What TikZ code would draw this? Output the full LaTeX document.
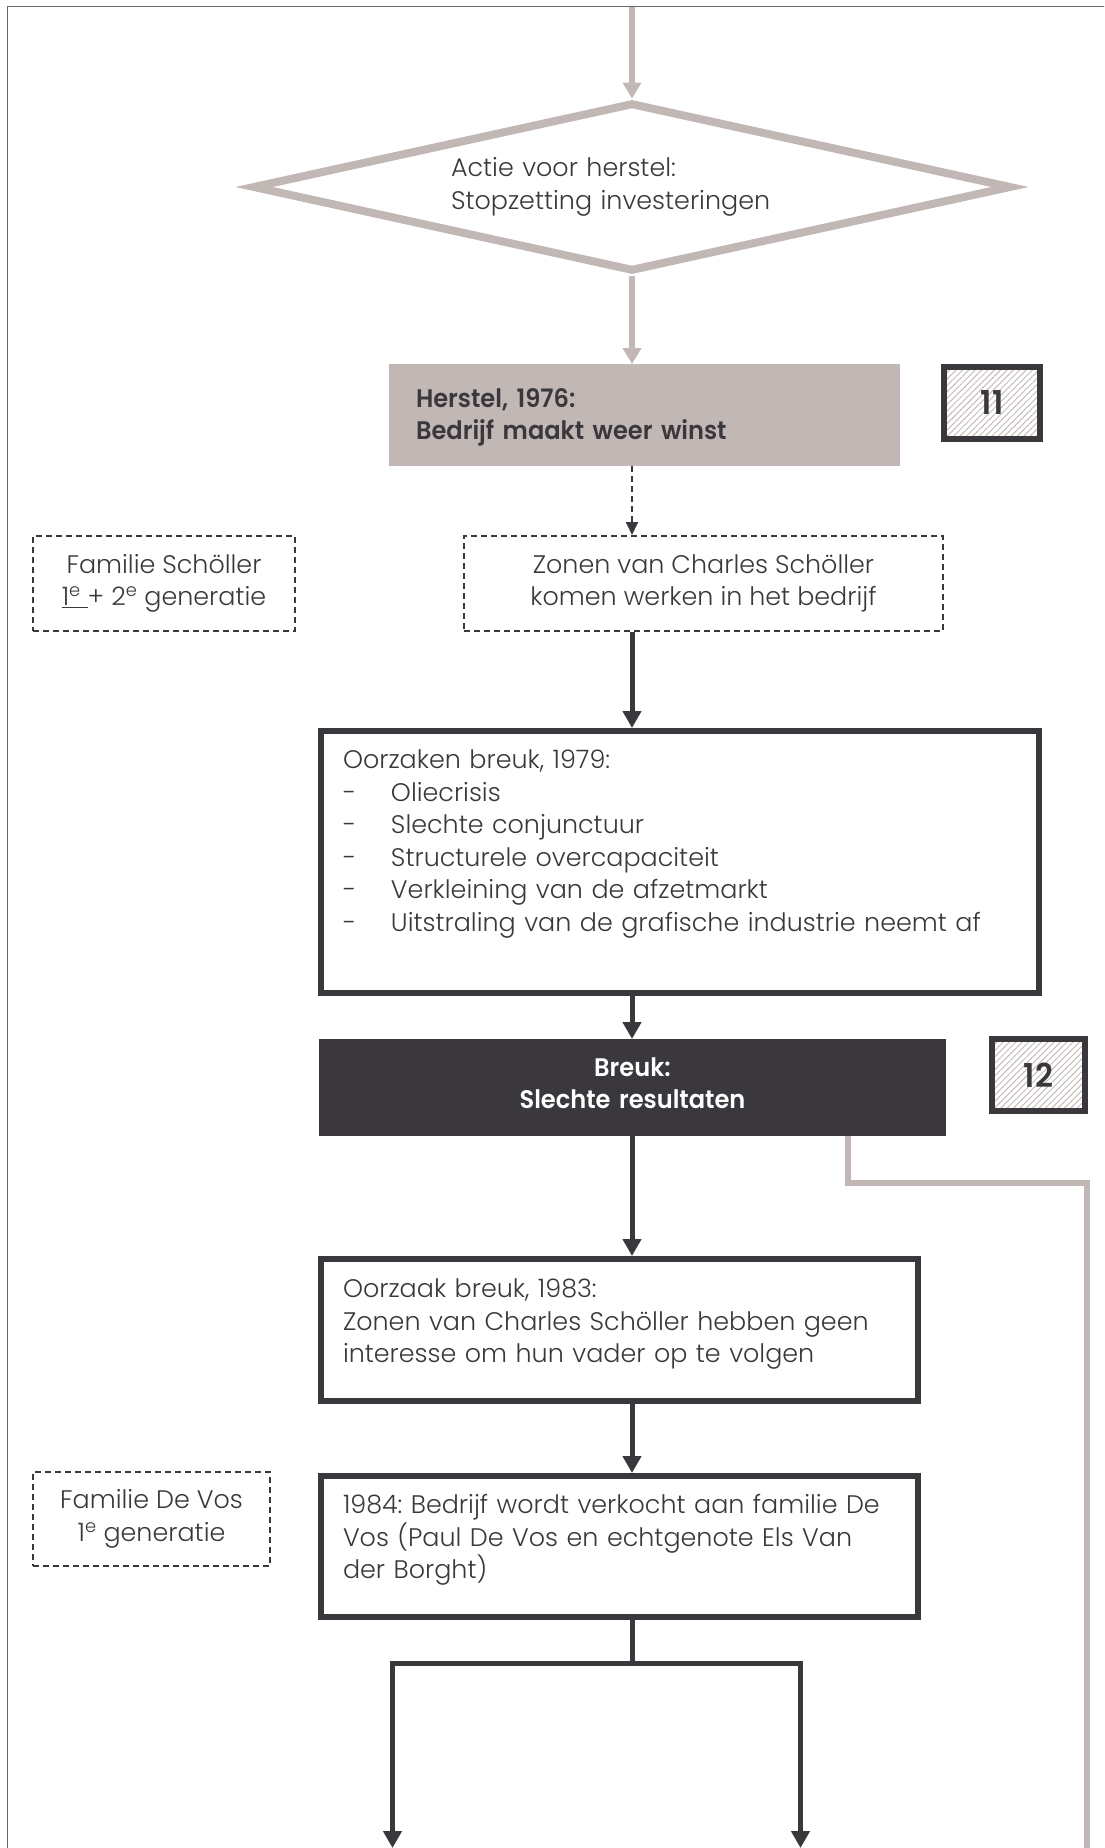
\documentclass[tikz,border=0pt]{standalone}
\usepackage{fontspec}
\setmainfont{Poppins}[UprightFont={* Light}, BoldFont={* SemiBold}, BoldFeatures={FakeStretch=0.95}]
\usetikzlibrary{arrows.meta,shapes.geometric,patterns.meta}
\definecolor{ink}{HTML}{3A383D}
\definecolor{taupe}{HTML}{C1B7B4}
\definecolor{framegray}{HTML}{666666}
\definecolor{hatch}{HTML}{C4BCB9}
\newcommand\txtsize{\fontsize{25.5}{32.6}\selectfont}
\frenchspacing

\begin{document}
\begin{tikzpicture}[x=1bp,y=-1bp,
  every node/.style={font=\txtsize, text=ink},
  darrow/.style={draw=ink, line width=5bp, -{Triangle[length=17bp,width=18bp]}},
  gline/.style={draw=taupe, line width=5.5bp},
  garrow/.style={gline, -{Triangle[length=16bp,width=18bp]}},
  dashedarrow/.style={draw=ink, line width=1.8bp, dash pattern=on 6bp off 4bp, -{Triangle[length=13bp,width=12bp]}},
  plainbox/.style={draw=ink, line width=5.5bp, fill=white, inner sep=0pt, align=left, anchor=north},
  famibox/.style={draw=ink, line width=2bp, dash pattern=on 6bp off 4bp, inner sep=0pt, align=center},
  numbox/.style={draw=ink, line width=5.5bp, pattern={Lines[angle=45,distance=4.5bp,line width=1bp]}, pattern color=hatch, minimum width=96bp, minimum height=72bp, inner sep=0pt, font=\fontsize{33}{36}\selectfont\bfseries},
]
\useasboundingbox (0,0) rectangle (1104,1848);
\clip (0,0) rectangle (1104,1848);

% page frame
\draw[framegray, line width=1.7bp] (7.5,6.5) rectangle (1130,1880);

% helper coordinates
\coordinate (axis) at (632,0);
\coordinate (topin) at (632,6.5);
\coordinate (fbx) at (848,0);
\coordinate (fbturn) at (1087,1183);
\coordinate (fbend) at (1087,1900);
\coordinate (split) at (632,1663.5);
\coordinate (leftend) at (392.5,1848);
\coordinate (rightend) at (800.5,1848);

% decision
\node[diamond, draw=taupe, line width=8bp, fill=white, aspect=4.5,
      minimum width=759bp, minimum height=169bp, inner sep=0pt,
      text width=362bp, align=left] (act) at (632,187)
  {Actie voor herstel:\\Stopzetting investeringen};

% recovery
\node[fill=taupe, anchor=north, minimum width=511bp, inner sep=0pt,
      text width=457bp, align=left, text height=43bp, text depth=59bp,
      font=\txtsize\bfseries] (herstel) at (644.5,364)
  {Herstel, 1976:\\Bedrijf maakt weer winst};
\node[numbox] (n11) at (992,403) {11};

% family / sons
\node[famibox, minimum width=262bp, minimum height=95bp] (famS) at (164,583.5)
  {Familie Schöller\\\underline{1\textsuperscript{e}\ }+ 2\textsuperscript{e} generatie};
\node[famibox, minimum width=479bp, minimum height=95bp] (zonen) at (703.5,583.5)
  {Zonen van Charles Schöller\\komen werken in het bedrijf};

% causes 1979
\node[plainbox, minimum width=718bp, text width=674bp,
      text height=38bp, text depth=224bp] (oorz) at (680,728)
  {Oorzaken breuk, 1979:\\
   \makebox[48bp][l]{-}Oliecrisis\\
   \makebox[48bp][l]{-}Slechte conjunctuur\\
   \makebox[48bp][l]{-}Structurele overcapaciteit\\
   \makebox[48bp][l]{-}Verkleining van de afzetmarkt\\
   \makebox[48bp][l]{-}Uitstraling van de grafische industrie neemt af};

% break
\node[fill=ink, anchor=north, minimum width=627bp, inner sep=0pt,
      text width=580bp, align=center, text height=37bp, text depth=60bp,
      font=\txtsize\bfseries, text=white] (breuk) at (632.5,1039)
  {Breuk:\\Slechte resultaten};
\node[numbox, minimum width=93bp] (n12) at (1038.5,1075) {12};

% cause 1983
\node[plainbox, minimum width=597bp, text width=553bp,
      text height=39bp, text depth=103bp] (oorz2) at (619.5,1256)
  {Oorzaak breuk, 1983:\\Zonen van Charles Schöller hebben geen\\interesse om hun vader op te volgen};

% sale 1984
\node[plainbox, minimum width=597bp, text width=553bp,
      text height=38bp, text depth=103bp] (sale) at (619.5,1473)
  {1984: Bedrijf wordt verkocht aan familie De\\Vos (Paul De Vos en echtgenote Els Van\\der Borght)};
\node[famibox, minimum width=237bp, minimum height=94bp] (famV) at (151.5,1519)
  {Familie De Vos\\1\textsuperscript{e} generatie};

% connectors
\draw[garrow] (topin) -- (act.north);
\draw[garrow] (act.south) -- (herstel.north -| axis);
\draw[dashedarrow] (herstel.south -| axis) -- (zonen.north -| axis);
\draw[darrow] (zonen.south -| axis) -- (oorz.north -| axis);
\draw[darrow] (oorz.south -| axis) -- (breuk.north -| axis);
\draw[darrow] (breuk.south -| axis) -- (oorz2.north -| axis);
\draw[darrow] (oorz2.south -| axis) -- (sale.north -| axis);
\draw[draw=ink, line width=5bp] (sale.south -| axis) -- (split);
\draw[darrow] (split) -| (leftend);
\draw[darrow] (split) -| (rightend);
\draw[gline] (breuk.south -| fbx) |- (fbturn) -- (fbend);
\end{tikzpicture}
\end{document}
